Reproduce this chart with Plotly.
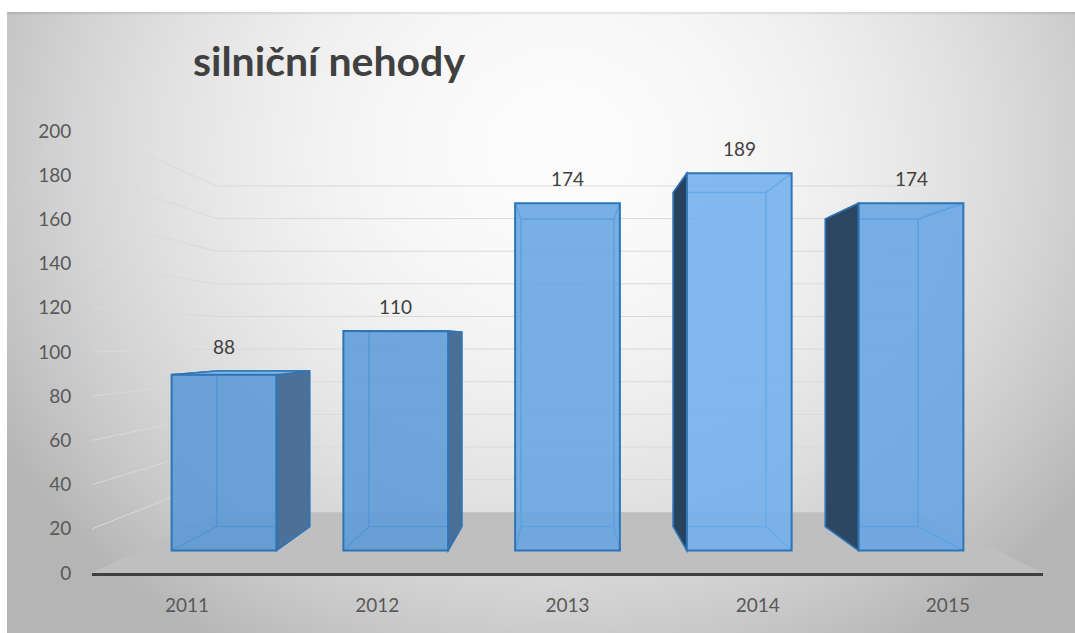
import base64
import struct
import zlib

import numpy as np
import plotly.graph_objects as go

# ---------------- data ----------------
years = ["2011", "2012", "2013", "2014", "2015"]
accidents = [88, 110, 174, 189, 174]
value_ticks = [0, 20, 40, 60, 80, 100, 120, 140, 160, 180, 200]
chart_title = "silniční nehody"

# ---------------- 3-D perspective model (style) ----------------
VP_X, VP_V = 2.0, 105.0   # vanishing point, in axis units
K_WALL = 0.738            # depth scale of the back wall
K_FRONT = 0.903           # depth scale of the bar front faces
K_BACK = 0.80             # depth scale of the bar back faces
HALF_W = 0.305            # half bar width (category units, front plane)
Y_TOP = 250.2

face_colors = ["rgba(90,152,213,0.88)", "rgba(92,155,215,0.88)",
               "rgba(101,165,226,0.88)", "rgba(113,177,238,0.88)",
               "rgba(101,165,228,0.88)"]
side_colors = ["rgb(76,112,152)", "rgb(74,110,150)", "rgb(60,90,125)",
               "rgb(40,65,92)", "rgb(45,70,98)"]
EDGE = "#2E75B6"
GRID = "#d9d9d9"
TXT = "#404040"
TICK = "#595959"
FONT = "Lato"


def proj(X, V, k):
    return VP_X + (X - VP_X) * k, VP_V + (V - VP_V) * k


def poly(points, close=True):
    s = "M " + " L ".join(f"{x:.4f},{y:.4f}" for x, y in points)
    return s + (" Z" if close else "")


# ---------------- background gradient image ----------------
def gray_png(arr):
    h, w = arr.shape
    raw = b"".join(b"\x00" + arr[j].tobytes() for j in range(h))

    def chunk(t, d):
        return (struct.pack(">I", len(d)) + t + d +
                struct.pack(">I", zlib.crc32(t + d) & 0xFFFFFFFF))
    return (b"\x89PNG\r\n\x1a\n" +
            chunk(b"IHDR", struct.pack(">IIBBBBB", w, h, 8, 0, 0, 0, 0)) +
            chunk(b"IDAT", zlib.compress(raw, 9)) + chunk(b"IEND", b""))


BW, BH = 534, 311
gx = (np.arange(BW) + 0.5) * 2 + 7
gy = (np.arange(BH) + 0.5) * 2 + 12
GX, GY = np.meshgrid(gx, gy)
rr = np.sqrt(((GX - 560) / 620) ** 2 + ((GY - 150) / 560) ** 2)
bg = np.clip(252 - 64 * np.minimum(rr, 1.05) ** 2, 0, 255)
bg[0, :] -= 20
bg = np.clip(bg, 0, 255).astype(np.uint8)
bg_uri = "data:image/png;base64," + base64.b64encode(gray_png(bg)).decode()

# ---------------- geometry from data ----------------
x_lo, x_hi = -0.5, len(years) - 0.5
PLOT_L, PLOT_R, PLOT_T, PLOT_B = 92, 32, 20, 60
plot_w = 1075 - PLOT_L - PLOT_R
plot_h = 633 - PLOT_T - PLOT_B

shapes = []
# wall gridlines
for v in value_ticks[1:]:
    a = proj(x_lo, v, K_WALL)
    b = proj(x_hi, v, K_WALL)
    shapes.append(dict(type="path", xref="x", yref="y", layer="below",
                       path=poly([(x_lo, v), a, b], close=False),
                       line=dict(color=GRID, width=1)))
# floor
shapes.append(dict(type="path", xref="x", yref="y", layer="below",
                   path=poly([(x_lo, 0), (x_hi, 0), proj(x_hi, 0, K_WALL),
                              proj(x_lo, 0, K_WALL)]),
                   fillcolor="#bfbfbf", line=dict(width=0)))

annotations = []
bar_x, bar_h = [], []
for i, v in enumerate(accidents):
    xl, xr = i - HALF_W, i + HALF_W
    f00, f10 = proj(xl, 0, K_FRONT), proj(xr, 0, K_FRONT)
    f01, f11 = proj(xl, v, K_FRONT), proj(xr, v, K_FRONT)
    b00, b10 = proj(xl, 0, K_BACK), proj(xr, 0, K_BACK)
    b01, b11 = proj(xl, v, K_BACK), proj(xr, v, K_BACK)
    hidden = (poly([b00, b10, b11, b01]) + " " +
              " ".join(poly([p, q], close=False)
                       for p, q in [(f00, b00), (f10, b10), (f11, b11), (f01, b01)]))
    shapes.append(dict(type="path", xref="x", yref="y", layer="below",
                       path=hidden, line=dict(color=EDGE, width=1.5)))
    if xr < VP_X:
        shapes.append(dict(type="path", xref="x", yref="y", layer="below",
                           path=poly([f10, f11, b11, b10]),
                           fillcolor=side_colors[i], line=dict(color=EDGE, width=1.5)))
    if xl > VP_X:
        shapes.append(dict(type="path", xref="x", yref="y", layer="below",
                           path=poly([f00, f01, b01, b00]),
                           fillcolor=side_colors[i], line=dict(color=EDGE, width=1.5)))
    if v < VP_V:
        shapes.append(dict(type="path", xref="x", yref="y", layer="below",
                           path=poly([f01, f11, b11, b01]),
                           fillcolor="rgb(130,182,232)", line=dict(color=EDGE, width=1.5)))
    bar_x.append(proj(i, 0, K_FRONT)[0])
    bar_h.append(v * K_FRONT)
    annotations.append(dict(x=bar_x[-1], y=max(f01[1], b01[1]), xref="x", yref="y",
                            text=str(v), showarrow=False, yanchor="bottom", yshift=11,
                            font=dict(family=FONT, size=19, color=TXT)))

base_v = proj(0, 0, K_FRONT)[1]

fig = go.Figure()
fig.add_trace(go.Bar(
    x=bar_x, y=bar_h, base=base_v, width=2 * HALF_W * K_FRONT,
    marker=dict(color=face_colors, line=dict(color=EDGE, width=2)),
    customdata=accidents, hovertemplate="%{customdata}<extra></extra>",
))

fig.update_layout(
    width=1075, height=633, autosize=False,
    margin=dict(l=PLOT_L, r=PLOT_R, t=PLOT_T, b=PLOT_B, pad=0),
    paper_bgcolor="white", plot_bgcolor="rgba(0,0,0,0)",
    showlegend=False,
    title=dict(text="<b>" + chart_title + "</b>", xref="container", yref="container",
               x=329 / 1075, y=1 - 62 / 633, xanchor="center", yanchor="middle",
               font=dict(family=FONT, size=41, color=TXT)),
    xaxis=dict(range=[x_lo, x_hi], tickmode="array", tickvals=list(range(len(years))),
               ticktext=years, ticks="outside", ticklen=13, tickcolor="rgba(0,0,0,0)",
               showgrid=False, zeroline=False, showline=True, linecolor="#404040",
               linewidth=3, tickfont=dict(family=FONT, size=19, color=TICK),
               fixedrange=True),
    yaxis=dict(range=[0, Y_TOP], tickmode="array", tickvals=value_ticks,
               ticks="outside", ticklen=16, tickcolor="rgba(0,0,0,0)",
               showgrid=False, zeroline=False, showline=False,
               tickfont=dict(family=FONT, size=19, color=TICK), fixedrange=True),
    shapes=shapes,
    annotations=annotations,
    images=[dict(source=bg_uri, xref="paper", yref="paper",
                 x=(7 - PLOT_L) / plot_w, y=(633 - PLOT_B - 12) / plot_h,
                 sizex=1068 / plot_w, sizey=621 / plot_h,
                 xanchor="left", yanchor="top", sizing="stretch", layer="below")],
)

fig.write_html("out.html")
